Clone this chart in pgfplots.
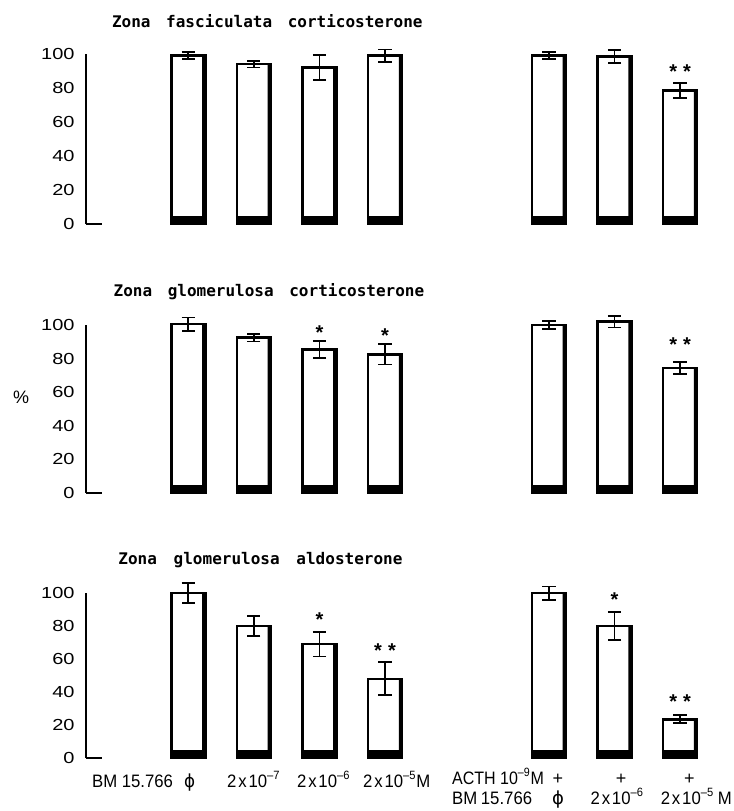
\documentclass[border=0pt]{standalone}
\usepackage{pgfplots}
\pgfplotsset{compat=1.18}
\usepackage{pgfplotstable}
\usepackage{graphicx}
\usepackage{fontspec}
\setmainfont{Liberation Sans}
\newfontfamily\titlefont{DejaVu Sans Mono Bold}
\newfontfamily\dejavu{DejaVu Sans}

\pgfplotstableread{
x y e b
0 99 2 4
1 94 2 4
2 92 7.5 4
3 99 3.6 4
5.5 99 2 4
6.5 98.5 4 4
7.5 78.5 4.3 4
}\dataA
\pgfplotstableread{
x y e b
0 100.5 4 4
1 92.5 2.3 4
2 85.5 5 4
3 82.5 6 4
5.5 100 2.2 4
6.5 102 3.5 4
7.5 74.5 3.5 4
}\dataB
\pgfplotstableread{
x y e b
0 100 6.2 4
1 80 6.3 4
2 69 7.5 4
3 48 10 4
5.5 100 4 4
6.5 80 8.7 4
7.5 23.5 2.5 4
}\dataC

\pgfplotsset{
 panel/.style={scale only axis, width=320pt, xmin=-1.56, xmax=8.2, ymin=0, ymax=100,
   axis x line=none, axis y line*=left, axis line style={line width=1pt},
   ytick={0,20,40,60,80,100}, major tick length=0pt, clip=false,
   yticklabel={\scalebox{1.25}[1]{\pgfmathprintnumber{\tick}}},
   yticklabel style={font=\fontsize{8}{8}\selectfont, xshift=-2.2pt},
   /pgf/number format/assume math mode=true, anchor=south west},
 mainbar/.style={ybar, bar width=0.52, fill=white, draw=black, line width=1.3pt,
   error bars/y dir=both, error bars/y explicit,
   error bars/error bar style={line width=0.9pt, solid},
   error bars/error mark options={rotate=90, mark size=3.3pt, line width=0.9pt}},
 shadowbar/.style={ybar, bar width=0.05, bar shift=0.235, fill=black, draw=none},
 basebar/.style={ybar, bar width=0.52, fill=black, draw=black, line width=1.3pt},
}
\newcommand{\lbl}{\fontsize{9}{10}\selectfont}
\newcommand{\ttl}{\titlefont\fontsize{8}{9}\selectfont}
\newcommand{\st}{\fontsize{10}{10}\selectfont\bfseries}
\newcommand{\cx}[1]{\scalebox{0.93}[1]{#1}}

\begin{document}
\begin{tikzpicture}
\path[use as bounding box] (0,0) rectangle (367pt,405.5pt);

% Panel 1
\begin{axis}[panel, at={(43pt,293.5pt)}, height=85pt]
\addplot[mainbar] table[x=x, y=y, y error=e] {\dataA};
\addplot[shadowbar] table[x=x, y=y] {\dataA};
\addplot[basebar] table[x=x, y=b] {\dataA};
\addplot[line width=1pt, no marks] coordinates {(-1.56,0) (-1.32,0)};
\node[anchor=base west, inner sep=0, font=\ttl] at (axis cs:-1.168,115.5) {Zona\hspace{7.8pt}fasciculata\hspace{7.8pt}corticosterone};
\node[anchor=base, inner sep=0, font=\st] at (axis cs:7.5,85.7) {*\hspace{3pt}*};
\end{axis}

% Panel 2
\begin{axis}[panel, at={(43pt,159pt)}, height=84pt]
\addplot[mainbar] table[x=x, y=y, y error=e] {\dataB};
\addplot[shadowbar] table[x=x, y=y] {\dataB};
\addplot[basebar] table[x=x, y=b] {\dataB};
\addplot[line width=1pt, no marks] coordinates {(-1.56,0) (-1.32,0)};
\node[anchor=base west, inner sep=0, font=\ttl] at (axis cs:-1.144,116.7) {Zona\hspace{7.8pt}glomerulosa\hspace{7.8pt}corticosterone};
\node[anchor=base, inner sep=0, font=\st] at (axis cs:2,91.1) {*};
\node[anchor=base, inner sep=0, font=\st] at (axis cs:3,89.5) {*};
\node[anchor=base, inner sep=0, font=\st] at (axis cs:7.5,84.1) {*\hspace{3pt}*};
\node[font=\fontsize{9}{9}\selectfont] at (axis cs:-2.55,57) {\%};
\end{axis}

% Panel 3
\begin{axis}[panel, at={(43pt,26.5pt)}, height=82.5pt]
\addplot[mainbar] table[x=x, y=y, y error=e] {\dataC};
\addplot[shadowbar] table[x=x, y=y] {\dataC};
\addplot[basebar] table[x=x, y=b] {\dataC};
\addplot[line width=1pt, no marks] coordinates {(-1.56,0) (-1.32,0)};
\node[anchor=base west, inner sep=0, font=\ttl] at (axis cs:-1.072,117) {Zona\hspace{8.4pt}glomerulosa\hspace{8.4pt}aldosterone};
\node[anchor=base, inner sep=0, font=\st] at (axis cs:2,79.5) {*};
\node[anchor=base, inner sep=0, font=\st] at (axis cs:3,61) {*\hspace{3pt}*};
\node[anchor=base, inner sep=0, font=\st] at (axis cs:6.5,92) {*};
\node[anchor=base, inner sep=0, font=\st] at (axis cs:7.5,29.8) {*\hspace{3pt}*};
% category labels
\node[anchor=base west, inner sep=0, font=\lbl] at (axis cs:-1.473,-17.6) {\cx{BM 15.766\hspace{6pt}{\dejavu ϕ}}};
\node[anchor=base west, inner sep=0, font=\lbl] at (axis cs:0.586,-17.6) {\cx{2\hspace{1pt}x\hspace{1pt}10\textsuperscript{–7}}};
\node[anchor=base west, inner sep=0, font=\lbl] at (axis cs:1.653,-17.6) {\cx{2\hspace{1pt}x\hspace{1pt}10\textsuperscript{–6}}};
\node[anchor=base west, inner sep=0, font=\lbl] at (axis cs:2.660,-17.6) {\cx{2\hspace{1pt}x\hspace{1pt}10\textsuperscript{–5}M}};
\node[anchor=base west, inner sep=0, font=\lbl] at (axis cs:4.017,-16) {\scalebox{0.89}[1]{ACTH 10\textsuperscript{–9}M}};
\node[anchor=base, inner sep=0, font=\lbl] at (axis cs:5.638,-16) {+};
\node[anchor=base, inner sep=0, font=\lbl] at (axis cs:6.60,-16) {+};
\node[anchor=base, inner sep=0, font=\lbl] at (axis cs:7.64,-16) {+};
\node[anchor=base west, inner sep=0, font=\lbl] at (axis cs:4.017,-28) {\cx{BM\hspace{2pt}15.766}};
\node[anchor=base, inner sep=0, font=\lbl] at (axis cs:5.638,-28) {{\dejavu ϕ}};
\node[anchor=base west, inner sep=0, font=\lbl] at (axis cs:6.129,-28) {\cx{2\hspace{1pt}x\hspace{1pt}10\textsuperscript{–6}}};
\node[anchor=base west, inner sep=0, font=\lbl] at (axis cs:7.20,-28) {\cx{2\hspace{1pt}x\hspace{1pt}10\textsuperscript{–5}\hspace{2pt}M}};
\end{axis}
\end{tikzpicture}
\end{document}
